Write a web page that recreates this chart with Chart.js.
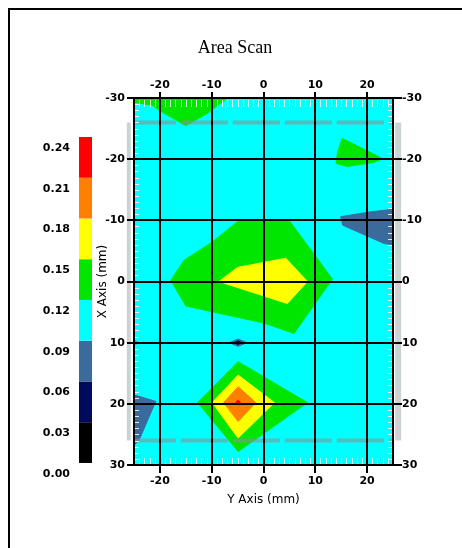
<!DOCTYPE html>
<html>
<head>
<meta charset="utf-8">
<script src="https://cdn.jsdelivr.net/npm/chart.js@4.4.1/dist/chart.umd.min.js"></script>
<style>
  html, body { margin: 0; padding: 0; background: #fff; }
  #wrap { position: relative; width: 462px; height: 548px; }
  #frame {
    position: absolute; left: 8px; top: 8px; right: 0; bottom: 0;
    border-left: 2px solid #000; border-top: 2px solid #000;
    pointer-events: none;
  }
</style>
</head>
<body>
<div id="wrap">
  <canvas id="areaScan" width="462" height="548"></canvas>
  <div id="frame"></div>
</div>
<script>
// Horizontal axis is "Y Axis (mm)", vertical axis is "X Axis (mm)" (-30 at top)
const yAxisRange = [-25, 25];
const xAxisRange = [-30, 30];
const yAxisTicks = [-20, -10, 0, 10, 20];
const xAxisTicks = [-30, -20, -10, 0, 10, 20, 30];

// Colour scale
const levels = [0.00, 0.03, 0.06, 0.09, 0.12, 0.15, 0.18, 0.21, 0.24];
const bandColors = ["#000000", "#000a5c", "#3a6b9c", "#00ffff", "#00e600", "#ffff00", "#ff8000", "#ff0000"];

// Contour regions, vertices as [Y mm, X mm]
const greenTopLeft = [[-25, -30], [-7, -30], [-10.8, -27.5], [-15, -25.5], [-19.2, -27.5], [-21.5, -28.8], [-25, -29.3]];
const greenTopRight = [[15.2, -23.4], [23, -20.1], [21.4, -19.5], [16.2, -18.8], [14, -19.3], [14.3, -21.2]];
const blueTopRight = [[14.9, -10.6], [20.8, -11.4], [25, -11.8], [25, -6], [23.3, -6.2], [15.3, -9.2]];
const centerGreen = [[-5, -9.8], [5.1, -9.8], [13.3, -0.4], [5.9, 8.5], [0.1, 6.8], [-15, 4], [-17.9, -0.2], [-15.3, -3.5], [-9.8, -6.5]];
const centerYellow = [[-8.6, 0], [-5, -2.3], [4.3, -3.8], [8.5, 0], [4.6, 3.6]];
const blueDot = [[-6.6, 10], [-4.9, 9.4], [-3.2, 10], [-4.9, 10.6]];
const navyDot = [[-5.6, 10], [-4.9, 9.7], [-4.2, 10], [-4.9, 10.3]];
const greenEdgeDot = [[-25, 9.5], [-24.2, 10], [-25, 10.5]];
const blueBottomLeft = [[-25, 18.6], [-24.3, 18.7], [-20.8, 19.6], [-24, 25.9], [-25, 26.8]];
const diamondGreen = [[-4.9, 13.1], [8.5, 19.8], [-4.9, 27.8], [-12.7, 19.8]];
const diamondYellow = [[-4.9, 15.3], [2.1, 19.8], [-4.9, 25.6], [-9.9, 19.8]];
const diamondOrange = [[-4.9, 17.2], [-1.5, 19.8], [-4.9, 22.9], [-7.7, 19.8]];
const diamondRed = [[-5.4, 19.8], [-4.9, 19.4], [-4.4, 19.8], [-4.9, 20.2]];

// scan boundary (grey frame)
const scanEdge = 26;

const background = [
  [yAxisRange[0], xAxisRange[0]], [yAxisRange[1], xAxisRange[0]],
  [yAxisRange[1], xAxisRange[1]], [yAxisRange[0], xAxisRange[1]]
];

// drawing order: first is bottom
const regions = [
  { band: 3, pts: background },
  { band: 4, pts: greenTopLeft },
  { band: 4, pts: greenTopRight },
  { band: 2, pts: blueTopRight },
  { band: 4, pts: centerGreen },
  { band: 5, pts: centerYellow },
  { band: 2, pts: blueDot },
  { band: 1, pts: navyDot },
  { band: 4, pts: greenEdgeDot },
  { band: 2, pts: blueBottomLeft },
  { band: 4, pts: diamondGreen },
  { band: 5, pts: diamondYellow },
  { band: 6, pts: diamondOrange },
  { band: 7, pts: diamondRed }
];

function closed(pts) {
  const out = pts.map(p => ({ x: p[0], y: p[1] }));
  out.push({ x: pts[0][0], y: pts[0][1] });
  return out;
}

const datasets = regions.map((r, i) => ({
  data: closed(r.pts),
  showLine: true,
  fill: "shape",
  backgroundColor: bandColors[r.band],
  borderColor: bandColors[r.band],
  borderWidth: 1,
  pointRadius: 0,
  tension: 0,
  order: regions.length + 2 - i
}));

// grey scan boundary: dashed top/bottom inside the plot, solid sides outside it
function edgeLine(a, b, color, dash, width, clip) {
  return {
    data: [{ x: a[0], y: a[1] }, { x: b[0], y: b[1] }],
    showLine: true,
    fill: false,
    borderColor: color,
    borderWidth: width,
    borderDash: dash,
    borderCapStyle: "butt",
    pointRadius: 0,
    clip: clip,
    order: 0
  };
}
const dashCol = "rgba(143, 143, 150, 0.6)";
const sideCol = "#cbd3d3";
datasets.push(edgeLine([-scanEdge, -scanEdge], [scanEdge, -scanEdge], dashCol, [47, 5], 4, 0));
datasets.push(edgeLine([-scanEdge, scanEdge], [scanEdge, scanEdge], dashCol, [47, 5], 4, 0));
datasets.push(edgeLine([-scanEdge, -scanEdge], [-scanEdge, scanEdge], sideCol, [], 4, false));
datasets.push(edgeLine([scanEdge, -scanEdge], [scanEdge, scanEdge], sideCol, [], 6, false));

// white minor ticks inside the frame
const minorTicks = {
  id: "minorTicks",
  afterDatasetsDraw(chart) {
    const { ctx, chartArea: a, scales: { x, y } } = chart;
    ctx.save();
    ctx.strokeStyle = "rgba(255, 255, 255, 0.85)";
    ctx.lineWidth = 1;
    ctx.beginPath();
    for (let h = x.min + 1; h < x.max; h++) {
      if (h % 10 === 0) continue;
      const px = Math.round(x.getPixelForValue(h)) + 0.5;
      ctx.moveTo(px, a.top + 2);
      ctx.lineTo(px, a.top + 9);
      ctx.moveTo(px, a.bottom - 7);
      ctx.lineTo(px, a.bottom - 1);
    }
    for (let v = y.min + 1; v < y.max; v++) {
      if (v % 10 === 0) continue;
      const py = Math.round(y.getPixelForValue(v)) + 0.5;
      ctx.moveTo(a.left + 1, py);
      ctx.lineTo(a.left + 5, py);
      ctx.moveTo(a.right - 5, py);
      ctx.lineTo(a.right - 1, py);
    }
    ctx.stroke();
    ctx.restore();
  }
};

// colour bar on the cb scale
const colorBar = {
  id: "colorBar",
  afterDraw(chart) {
    const s = chart.scales.cb;
    const ctx = chart.ctx;
    const x0 = s.right - 17;
    for (let i = 0; i < bandColors.length; i++) {
      const top = s.getPixelForValue(levels[i + 1]);
      const bot = s.getPixelForValue(levels[i]);
      ctx.fillStyle = bandColors[i];
      ctx.fillRect(x0, top, 13, bot - top);
    }
  }
};

const tickFont = { family: "'DejaVu Sans', sans-serif", size: 11, weight: "bold" };
const titleFont = { family: "'DejaVu Sans', sans-serif", size: 12 };

function fixTicks(list) {
  return s => { s.ticks = list.map(v => ({ value: v })); };
}

new Chart(document.getElementById("areaScan"), {
  type: "scatter",
  data: { datasets },
  options: {
    responsive: false,
    animation: false,
    layout: { padding: { left: 42, right: 34, top: 0, bottom: 38 } },
    plugins: {
      legend: { display: false },
      tooltip: { enabled: false },
      title: {
        display: true,
        text: "Area Scan",
        color: "#000",
        font: { family: "'Liberation Serif', serif", size: 18, weight: "normal", lineHeight: "16px" },
        padding: { top: 40, bottom: 22 }
      }
    },
    scales: {
      x: {
        type: "linear", position: "bottom",
        min: yAxisRange[0], max: yAxisRange[1],
        afterBuildTicks: fixTicks(yAxisTicks),
        afterFit: s => { s.height = 45; },
        grid: { color: "#000", lineWidth: 2, tickLength: 8, z: 1 },
        border: { display: true, color: "#000", width: 2, z: 2 },
        ticks: { color: "#000", font: tickFont, padding: 2, maxRotation: 0 },
        title: { display: true, text: "Y Axis (mm)", color: "#000", font: titleFont, padding: { top: 0, bottom: 3 } }
      },
      x2: {
        type: "linear", position: "top",
        min: yAxisRange[0], max: yAxisRange[1],
        afterBuildTicks: fixTicks(yAxisTicks),
        afterFit: s => { s.height = 20; },
        grid: { color: "#000", lineWidth: 2, tickLength: 6, drawOnChartArea: false, z: 1 },
        border: { display: true, color: "#000", width: 2, z: 2 },
        ticks: { color: "#000", font: tickFont, padding: 0, maxRotation: 0 }
      },
      y: {
        type: "linear", position: "left", weight: 0, reverse: true,
        min: xAxisRange[0], max: xAxisRange[1],
        afterBuildTicks: fixTicks(xAxisTicks),
        afterFit: s => { s.width = 38; },
        grid: { color: "#000", lineWidth: 2, tickLength: 7, z: 1 },
        border: { display: true, color: "#000", width: 2, z: 2 },
        ticks: { color: "#000", font: tickFont, padding: 2 },
        title: { display: true, text: "X Axis (mm)", color: "#000", font: titleFont, padding: { top: 0, bottom: 0 } }
      },
      y2: {
        type: "linear", position: "right", reverse: true,
        min: xAxisRange[0], max: xAxisRange[1],
        afterBuildTicks: fixTicks(xAxisTicks),
        afterFit: s => { s.width = 35; },
        grid: { color: "#000", lineWidth: 2, tickLength: 9, drawOnChartArea: false, z: 1 },
        border: { display: true, color: "#000", width: 2, z: 2 },
        ticks: { color: "#000", font: tickFont, padding: 0 }
      },
      cb: {
        type: "linear", position: "left", weight: 2,
        min: -0.0015, max: 0.2687,
        afterBuildTicks: fixTicks(levels),
        afterFit: s => { s.width = 54; },
        grid: { display: false, drawTicks: false },
        border: { display: false },
        ticks: {
          color: "#000", font: tickFont, padding: 26, labelOffset: 11,
          callback: v => Number(v).toFixed(2)
        }
      }
    }
  },
  plugins: [minorTicks, colorBar]
});
</script>
</body>
</html>
